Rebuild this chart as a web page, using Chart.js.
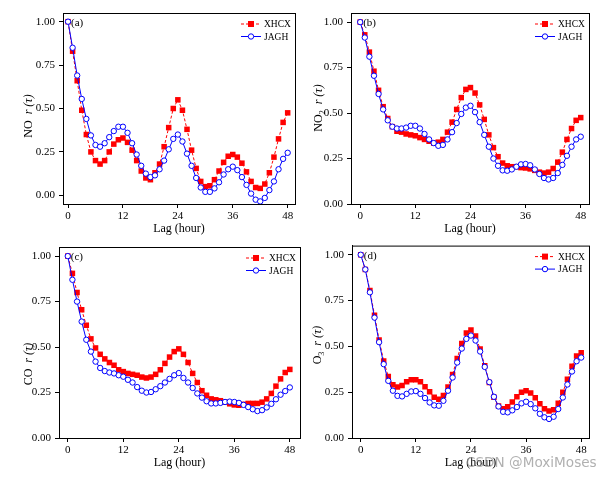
<!DOCTYPE html>
<html>
<head>
<meta charset="utf-8">
<script src="https://cdn.jsdelivr.net/npm/chart.js@4.4.1/dist/chart.umd.min.js"></script>
<style>
  html, body { margin: 0; padding: 0; background: #fff; }
  #wrap { position: relative; width: 609px; height: 478px; overflow: hidden; }
  .panel { position: absolute; }
  #mark {
    position: absolute; left: 466px; top: 454px; line-height: 17px;
    font: 13.6px "DejaVu Sans", sans-serif; color: rgba(150, 150, 150, 0.75);
    white-space: nowrap;
  }
</style>
</head>
<body>
<div id="wrap">
  <canvas class="panel" id="cA" width="305" height="240" style="left:0;top:0"></canvas>
  <canvas class="panel" id="cB" width="309" height="240" style="left:300px;top:0"></canvas>
  <canvas class="panel" id="cC" width="305" height="243" style="left:0;top:235px"></canvas>
  <canvas class="panel" id="cD" width="309" height="243" style="left:300px;top:235px"></canvas>
  <div id="mark">CSDN @MoxiMoses</div>
</div>
<script>
// lag axis (hours) and tick labels
const LAGS = [0, 1, 2, 3, 4, 5, 6, 7, 8, 9, 10, 11, 12, 13, 14, 15, 16, 17, 18, 19, 20, 21, 22, 23, 24,
  25, 26, 27, 28, 29, 30, 31, 32, 33, 34, 35, 36, 37, 38, 39, 40, 41, 42, 43, 44, 45, 46, 47, 48];
const X_TICKS = [0, 12, 24, 36, 48];
const Y_TICKS = [0, 0.25, 0.5, 0.75, 1];
const SERIES_NAMES = ["XHCX", "JAGH"];
const X_TITLE = "Lag (hour)";

// autocorrelation r(tau)
const NO_XHCX = [1.00, 0.83, 0.66, 0.49, 0.35, 0.25, 0.20, 0.18, 0.20, 0.25,
  0.295, 0.32, 0.33, 0.305, 0.26, 0.20, 0.14, 0.10, 0.09, 0.13,
  0.18, 0.28, 0.39, 0.50, 0.55, 0.49, 0.38, 0.26, 0.155, 0.08,
  0.05, 0.055, 0.09, 0.14, 0.19, 0.225, 0.235, 0.22, 0.185, 0.135,
  0.08, 0.045, 0.04, 0.065, 0.13, 0.22, 0.325, 0.42, 0.475];
const NO_JAGH = [1.00, 0.85, 0.69, 0.555, 0.44, 0.345, 0.29, 0.28, 0.30, 0.335,
  0.37, 0.395, 0.395, 0.36, 0.30, 0.235, 0.17, 0.125, 0.105, 0.115,
  0.15, 0.20, 0.265, 0.325, 0.35, 0.31, 0.24, 0.17, 0.10, 0.045,
  0.02, 0.02, 0.04, 0.075, 0.12, 0.15, 0.165, 0.145, 0.105, 0.06,
  0.01, -0.025, -0.035, -0.015, 0.03, 0.08, 0.15, 0.21, 0.245];

const NO2_XHCX = [1.00, 0.93, 0.835, 0.73, 0.625, 0.535, 0.47, 0.425, 0.40, 0.395,
  0.385, 0.38, 0.375, 0.365, 0.355, 0.345, 0.335, 0.34, 0.355, 0.395,
  0.45, 0.52, 0.585, 0.63, 0.64, 0.61, 0.545, 0.465, 0.38, 0.31,
  0.26, 0.225, 0.21, 0.205, 0.205, 0.20, 0.198, 0.193, 0.185, 0.175,
  0.17, 0.175, 0.195, 0.23, 0.285, 0.355, 0.415, 0.46, 0.475];
const NO2_JAGH = [1.00, 0.915, 0.81, 0.705, 0.605, 0.52, 0.46, 0.425, 0.415, 0.415,
  0.42, 0.43, 0.43, 0.415, 0.385, 0.355, 0.335, 0.32, 0.325, 0.355,
  0.395, 0.445, 0.495, 0.53, 0.54, 0.505, 0.45, 0.38, 0.315, 0.25,
  0.21, 0.185, 0.183, 0.19, 0.205, 0.218, 0.22, 0.213, 0.19, 0.165,
  0.143, 0.135, 0.143, 0.17, 0.215, 0.265, 0.315, 0.355, 0.37];

const CO_XHCX = [1.00, 0.905, 0.80, 0.705, 0.62, 0.545, 0.495, 0.46, 0.435, 0.415,
  0.40, 0.375, 0.365, 0.355, 0.35, 0.345, 0.335, 0.33, 0.335, 0.35,
  0.375, 0.41, 0.445, 0.475, 0.49, 0.46, 0.415, 0.355, 0.305, 0.26,
  0.235, 0.215, 0.21, 0.205, 0.197, 0.188, 0.182, 0.18, 0.185, 0.19,
  0.19, 0.19, 0.197, 0.215, 0.245, 0.285, 0.325, 0.36, 0.377];
const CO_JAGH = [1.00, 0.87, 0.75, 0.64, 0.54, 0.475, 0.42, 0.385, 0.368, 0.36,
  0.355, 0.345, 0.337, 0.32, 0.305, 0.28, 0.26, 0.25, 0.253, 0.268,
  0.285, 0.305, 0.325, 0.345, 0.357, 0.33, 0.305, 0.275, 0.245, 0.222,
  0.202, 0.19, 0.19, 0.193, 0.198, 0.20, 0.198, 0.193, 0.182, 0.17,
  0.158, 0.148, 0.153, 0.168, 0.188, 0.213, 0.238, 0.258, 0.278];

const O3_XHCX = [1.00, 0.92, 0.805, 0.67, 0.535, 0.42, 0.335, 0.29, 0.278, 0.287,
  0.307, 0.318, 0.318, 0.307, 0.28, 0.252, 0.222, 0.212, 0.232, 0.278,
  0.347, 0.434, 0.515, 0.573, 0.59, 0.557, 0.485, 0.394, 0.303, 0.223,
  0.174, 0.16, 0.17, 0.196, 0.225, 0.25, 0.258, 0.245, 0.22, 0.187,
  0.16, 0.147, 0.154, 0.189, 0.249, 0.32, 0.392, 0.448, 0.465];
const O3_JAGH = [1.00, 0.92, 0.795, 0.657, 0.523, 0.403, 0.312, 0.258, 0.23, 0.227,
  0.241, 0.254, 0.256, 0.241, 0.218, 0.194, 0.178, 0.176, 0.203, 0.258,
  0.33, 0.412, 0.488, 0.541, 0.559, 0.532, 0.472, 0.388, 0.305, 0.225,
  0.172, 0.143, 0.14, 0.151, 0.169, 0.189, 0.198, 0.185, 0.162, 0.132,
  0.113, 0.104, 0.116, 0.158, 0.221, 0.292, 0.363, 0.419, 0.439];

const SERIF = "'Liberation Serif', 'Times New Roman', serif";
const RED = "#ff0000";
const BLUE = "#0000ff";

// frame, legend, panel tag and the mixed-font y title are drawn here
const decoPlugin = {
  id: "deco",
  afterDraw(chart, args, o) {
    const { ctx, chartArea: a, scales } = chart;
    ctx.save();
    ctx.strokeStyle = "#000";
    ctx.lineWidth = 1;
    ctx.setLineDash([]);
    ctx.strokeRect(a.left + 0.5, a.top + 0.5, a.right - a.left, a.bottom - a.top);

    // panel tag, next to the first point
    ctx.fillStyle = "#000";
    ctx.font = "11px " + SERIF;
    ctx.textBaseline = "middle";
    ctx.textAlign = "left";
    ctx.fillText(o.tag, scales.x.getPixelForValue(0) + 3, scales.y.getPixelForValue(1) + 1);

    // legend (top right, inside the frame)
    const ds = chart.data.datasets;
    ds.forEach((d, i) => {
      const y = a.top + 11 + i * 12.5;
      const x0 = a.right - 54, x1 = a.right - 34, xm = (x0 + x1) / 2;
      ctx.strokeStyle = d.borderColor;
      ctx.lineWidth = 1;
      ctx.setLineDash(d.borderDash || []);
      ctx.beginPath();
      ctx.moveTo(x0, y); ctx.lineTo(x1, y);
      ctx.stroke();
      ctx.setLineDash([]);
      if (d.pointStyle === "rect") {
        ctx.fillStyle = d.pointBackgroundColor;
        ctx.fillRect(xm - 3, y - 3, 6, 6);
      } else {
        ctx.fillStyle = "#fff";
        ctx.beginPath();
        ctx.arc(xm, y, d.pointRadius, 0, Math.PI * 2);
        ctx.fill();
        ctx.stroke();
      }
      ctx.fillStyle = "#000";
      ctx.font = "9.5px " + SERIF;
      ctx.fillText(d.label, a.right - 31, y + 0.5);
    });

    // x title
    ctx.font = "12px " + SERIF;
    ctx.textAlign = "center";
    ctx.fillText(X_TITLE, (a.left + a.right) / 2, a.bottom + 25);

    // y title: species (with subscript) + italic r (tau)
    const parts = o.yTitle;
    let total = 0;
    parts.forEach(p => { ctx.font = p.f; p.w = ctx.measureText(p.t).width; total += p.w; });
    ctx.translate(o.titleX, o.titleY);
    ctx.rotate(-Math.PI / 2);
    ctx.textAlign = "left";
    ctx.textBaseline = "alphabetic";
    let cx = -total / 2;
    parts.forEach(p => {
      ctx.font = p.f;
      ctx.fillText(p.t, cx, 4 + (p.dy || 0));
      cx += p.w;
    });
    ctx.restore();
  }
};

function titleParts(species, sub) {
  const up = "12px " + SERIF, it = "italic 12px " + SERIF;
  const p = [{ t: species, f: up }];
  if (sub) p.push({ t: sub, f: "8px " + SERIF, dy: 3 });
  p.push({ t: "  ", f: up });
  p.push({ t: "r (τ)", f: it });
  return p;
}

function makePanel(id, xhcx, jagh, g) {
  const ticksFrom = list => scale => { scale.ticks = list.map(v => ({ value: v })); };
  new Chart(document.getElementById(id), {
    type: "line",
    data: {
      datasets: [
        {
          label: SERIES_NAMES[0],
          data: LAGS.map((x, i) => ({ x, y: xhcx[i] })),
          borderColor: RED,
          borderWidth: 1,
          borderDash: [3, 2],
          pointStyle: "rect",
          pointRadius: 3.9,
          pointBackgroundColor: RED,
          pointBorderWidth: 0,
          order: 1,
        },
        {
          label: SERIES_NAMES[1],
          data: LAGS.map((x, i) => ({ x, y: jagh[i] })),
          borderColor: BLUE,
          borderWidth: 1,
          pointStyle: "circle",
          pointRadius: 2.7,
          pointBackgroundColor: "#fff",
          pointBorderColor: BLUE,
          pointBorderWidth: 1,
          order: 0,
        },
      ],
    },
    options: {
      responsive: false,
      animation: false,
      layout: { padding: { top: g.top, right: g.right, left: 0, bottom: 0 } },
      plugins: {
        legend: { display: false },
        tooltip: { enabled: false },
        deco: { tag: g.tag, yTitle: g.yTitle, titleX: g.titleX, titleY: g.titleY },
      },
      scales: {
        x: {
          type: "linear",
          min: g.xMin, max: g.xMax,
          afterBuildTicks: ticksFrom(X_TICKS),
          afterFit: s => { s.height = g.xH; },
          grid: { drawOnChartArea: false, drawTicks: true, tickLength: 4, color: "#000" },
          border: { display: true, color: "#000", width: 1 },
          ticks: { color: "#000", padding: 2, maxRotation: 0, font: { family: SERIF, size: 11 } },
        },
        y: {
          min: g.yMin, max: 1.05,
          afterBuildTicks: ticksFrom(Y_TICKS),
          afterFit: s => { s.width = g.yW; },
          grid: { drawOnChartArea: false, drawTicks: true, tickLength: 4, color: "#000" },
          border: { display: true, color: "#000", width: 1 },
          ticks: { color: "#000", padding: 4, font: { family: SERIF, size: 11 }, callback: v => v.toFixed(2) },
        },
      },
    },
    plugins: [decoPlugin],
  });
}

makePanel("cA", NO_XHCX, NO_JAGH, {
  tag: "(a)", yTitle: titleParts("NO"), titleX: 28, titleY: 116,
  top: 13, right: 10, xH: 36, yW: 63, xMin: -1.1, xMax: 49.6, yMin: -0.05,
});
makePanel("cB", NO2_XHCX, NO2_JAGH, {
  tag: "(b)", yTitle: titleParts("NO", "2"), titleX: 18, titleY: 108,
  top: 13, right: 20, xH: 36, yW: 51, xMin: -2.0, xMax: 49.8, yMin: 0,
});
makePanel("cC", CO_XHCX, CO_JAGH, {
  tag: "(c)", yTitle: titleParts("CO"), titleX: 28, titleY: 129,
  top: 12, right: 5, xH: 40, yW: 59, xMin: -1.9, xMax: 50.2, yMin: 0,
});
makePanel("cD", O3_XHCX, O3_JAGH, {
  tag: "(d)", yTitle: titleParts("O", "3"), titleX: 17, titleY: 110,
  top: 10, right: 20, xH: 40, yW: 52, xMin: -1.9, xMax: 49.7, yMin: 0,
});
</script>
</body>
</html>
